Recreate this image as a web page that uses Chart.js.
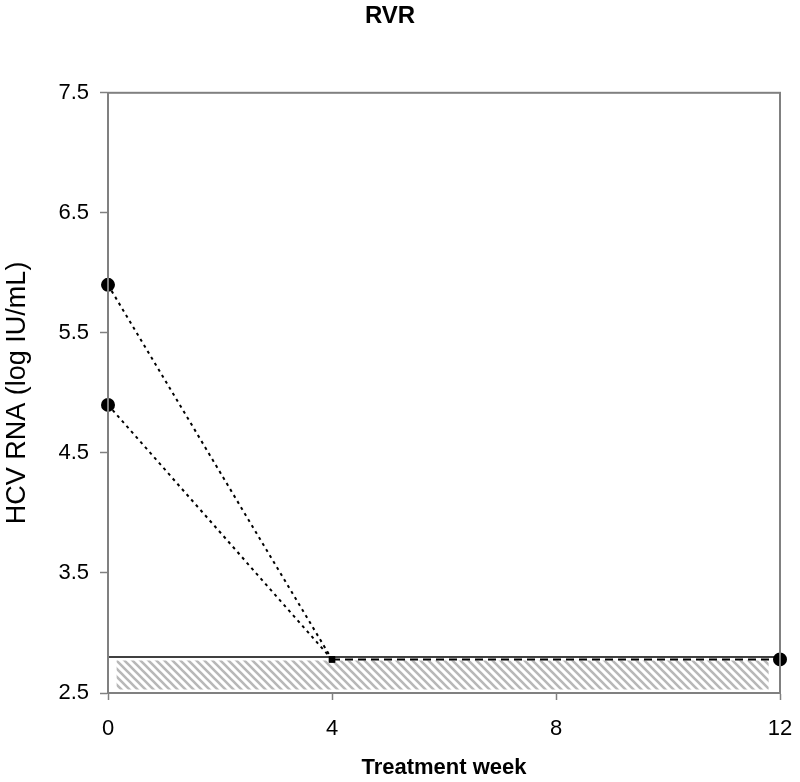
<!DOCTYPE html>
<html>
<head>
<meta charset="utf-8">
<script src="https://cdn.jsdelivr.net/npm/chart.js@4/dist/chart.umd.min.js"></script>
<style>
  body { margin: 0; background: #fff; }
</style>
</head>
<body>
<canvas id="chart" width="800" height="782"></canvas>
<script>
// data
var weeksEarly = [0, 4];
var rnaHigh = [5.9, 2.78];
var rnaLow = [4.9, 2.78];
var weeksLate = [4, 12];
var rnaLate = [2.78, 2.78];
var lloqWeeks = [0, 12];
var lloqValue = 2.8;
var bandWeeks = [0.15, 11.8];
var bandTop = 2.77;
var bandBottom = 2.53;
var xTicks = [0, 4, 8, 12];
var yTicks = [2.5, 3.5, 4.5, 5.5, 6.5, 7.5];

var FONT = "'Liberation Sans', Arial, sans-serif";
var AXIS_GRAY = '#808080';

function pts(xs, ys) {
  return xs.map(function (x, i) { return { x: x, y: ys[i] }; });
}

// diagonal hatch for the band under the limit line
var tile = document.createElement('canvas');
tile.width = 8; tile.height = 8;
var tctx = tile.getContext('2d');
tctx.strokeStyle = '#b8b8b8';
tctx.lineWidth = 2.6;
tctx.beginPath();
tctx.moveTo(-2, -2); tctx.lineTo(10, 10);
tctx.moveTo(-6, 2); tctx.lineTo(6, 14);
tctx.moveTo(2, -6); tctx.lineTo(14, 6);
tctx.stroke();
var hatch = tctx.createPattern(tile, 'repeat');

// gray frame around the plot area
var frame = {
  id: 'frame',
  afterDatasetsDraw: function (chart) {
    var a = chart.chartArea, ctx = chart.ctx;
    ctx.save();
    ctx.strokeStyle = AXIS_GRAY;
    ctx.lineWidth = 2;
    ctx.strokeRect(a.left, a.top, a.right - a.left, a.bottom - a.top);
    ctx.restore();
  }
};

var ctx = document.getElementById('chart').getContext('2d');

new Chart(ctx, {
  type: 'scatter',
  data: {
    datasets: [
      {
        data: pts(weeksEarly, rnaHigh),
        showLine: true,
        borderColor: '#000',
        borderWidth: 2,
        borderDash: [3, 4],
        pointStyle: ['circle', 'rect'],
        pointRadius: [6, 3],
        pointBackgroundColor: '#000',
        pointBorderColor: '#000',
        clip: false
      },
      {
        data: pts(weeksEarly, rnaLow),
        showLine: true,
        borderColor: '#000',
        borderWidth: 2,
        borderDash: [3, 4],
        pointStyle: ['circle', 'rect'],
        pointRadius: [6, 3],
        pointBackgroundColor: '#000',
        pointBorderColor: '#000',
        clip: false
      },
      {
        data: pts(weeksLate, rnaLate),
        showLine: true,
        borderColor: '#000',
        borderWidth: 2,
        borderDash: [8, 5],
        pointStyle: ['rect', 'circle'],
        pointRadius: [3, 6],
        pointBackgroundColor: '#000',
        pointBorderColor: '#000',
        clip: false
      },
      {
        data: pts(lloqWeeks, [lloqValue, lloqValue]),
        showLine: true,
        borderColor: '#000',
        borderWidth: 1.5,
        pointRadius: 0
      },
      {
        data: pts(bandWeeks, [bandTop, bandTop]),
        showLine: true,
        borderWidth: 0,
        borderColor: 'rgba(0,0,0,0)',
        backgroundColor: hatch,
        fill: { value: bandBottom },
        pointRadius: 0
      }
    ]
  },
  options: {
    responsive: false,
    animation: false,
    layout: { padding: { left: 0, right: 20, top: 0, bottom: 0 } },
    plugins: {
      legend: { display: false },
      tooltip: { enabled: false },
      title: {
        display: true,
        text: 'RVR',
        color: '#000',
        font: { family: FONT, size: 24, weight: 'bold' },
        padding: { top: 2, bottom: 62 }
      }
    },
    scales: {
      x: {
        type: 'linear',
        min: 0,
        max: 12,
        afterFit: function (s) {
          s.height = 89;
          s.paddingLeft = 0;
          s.paddingRight = 0;
        },
        afterBuildTicks: function (s) {
          s.ticks = xTicks.map(function (v) { return { value: v }; });
        },
        grid: { drawOnChartArea: false, tickLength: 7, color: AXIS_GRAY, tickWidth: 1.5 },
        border: { color: AXIS_GRAY, width: 2 },
        ticks: {
          color: '#000',
          padding: 16,
          maxRotation: 0,
          font: { family: FONT, size: 22 }
        },
        title: {
          display: true,
          text: 'Treatment week',
          color: '#000',
          font: { family: FONT, size: 22, weight: 'bold' },
          padding: { top: 0, bottom: 1 }
        }
      },
      y: {
        type: 'linear',
        min: 2.5,
        max: 7.5,
        afterFit: function (s) {
          s.width = 108;
          s.paddingTop = 0;
          s.paddingBottom = 0;
        },
        afterBuildTicks: function (s) {
          s.ticks = yTicks.map(function (v) { return { value: v }; });
        },
        grid: { drawOnChartArea: false, tickLength: 8, color: AXIS_GRAY, tickWidth: 1.5 },
        border: { color: AXIS_GRAY, width: 2 },
        ticks: {
          color: '#000',
          padding: 11,
          font: { family: FONT, size: 22 },
          callback: function (v) { return v.toFixed(1); }
        },
        title: {
          display: true,
          text: 'HCV RNA (log IU/mL)',
          color: '#000',
          font: { family: FONT, size: 27 },
          padding: { top: 1, bottom: 0 }
        }
      }
    }
  },
  plugins: [frame]
});
</script>
</body>
</html>
